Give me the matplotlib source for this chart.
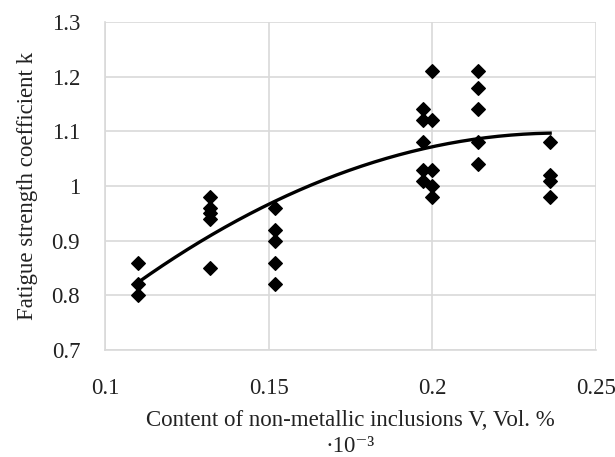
import matplotlib.pyplot as plt
import numpy as np

# measured points, grouped by inclusion content
x_vals = [0.110, 0.110, 0.110,
          0.132, 0.132, 0.132, 0.132, 0.132,
          0.152, 0.152, 0.152, 0.152, 0.152,
          0.197, 0.197, 0.197, 0.197, 0.197,
          0.200, 0.200, 0.200, 0.200, 0.200,
          0.214, 0.214, 0.214, 0.214, 0.214,
          0.236, 0.236, 0.236, 0.236]
k_vals = [0.86, 0.82, 0.80,
          0.98, 0.96, 0.95, 0.94, 0.85,
          0.96, 0.92, 0.90, 0.86, 0.82,
          1.14, 1.12, 1.08, 1.03, 1.01,
          1.21, 1.12, 1.03, 1.00, 0.98,
          1.21, 1.18, 1.14, 1.08, 1.04,
          1.08, 1.02, 1.01, 0.98]

# trend line (2nd order polynomial)
trend_x = [0.110, 0.132, 0.151, 0.157, 0.200, 0.214, 0.236]
trend_k = [0.823, 0.911, 0.969, 0.984, 1.073, 1.087, 1.096]

x_ticks = [0.1, 0.15, 0.2, 0.25]
x_tick_labels = ['0.1', '0.15', '0.2', '0.25']
y_ticks = [0.7, 0.8, 0.9, 1.0, 1.1, 1.2, 1.3]
y_tick_labels = ['0.7', '0.8', '0.9', '1', '1.1', '1.2', '1.3']

plt.rcParams['font.family'] = ['Liberation Serif', 'DejaVu Serif']
plt.rcParams['font.size'] = 16.5


def main():
    fig = plt.figure(figsize=(6.15, 4.57), dpi=100)
    ax = fig.add_axes([0.171, 0.234, 0.798, 0.718])

    coef = np.polyfit(trend_x, trend_k, 2)
    xs = np.linspace(trend_x[0], trend_x[-1], 200)
    ax.plot(xs, np.polyval(coef, xs), color='black', lw=2.4, zorder=2)

    ax.scatter(x_vals, k_vals, marker='D', s=48, color='black', zorder=3)

    ax.set_xlim(0.1, 0.25)
    ax.set_ylim(0.7, 1.3)
    ax.set_xticks(x_ticks)
    ax.set_xticklabels(x_tick_labels)
    ax.set_yticks(y_ticks)
    ax.set_yticklabels(y_tick_labels)
    ax.tick_params(length=0, colors='#222222')
    ax.tick_params(axis='x', pad=20)
    ax.tick_params(axis='y', pad=18)
    ax.grid(True, color='#d9d9d9', lw=1.2)
    ax.set_axisbelow(True)
    for side in ['top', 'right']:
        ax.spines[side].set_visible(False)
    for side in ['left', 'bottom']:
        ax.spines[side].set_color('#d9d9d9')
        ax.spines[side].set_linewidth(1.2)

    ax.set_ylabel('Fatigue strength coefficient k', color='#222222', labelpad=10)
    ax.set_xlabel('Content of non-metallic inclusions V, Vol. %\n\u00b710\u207b\u00b3',
                  color='#222222', labelpad=8, linespacing=1.3)

    fig.savefig('out.png', dpi=100)


if __name__ == '__main__':
    main()
